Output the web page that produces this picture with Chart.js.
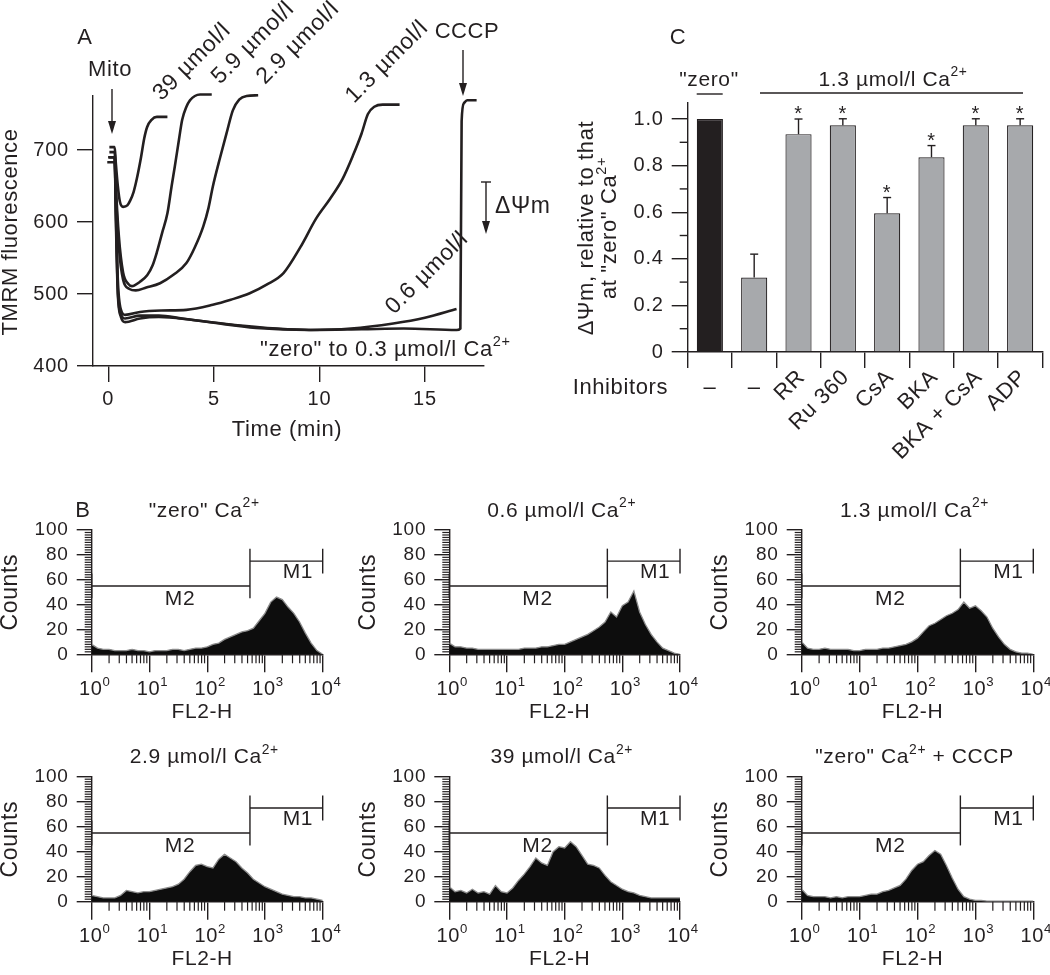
<!DOCTYPE html>
<html>
<head>
<meta charset="utf-8">
<script src="https://cdn.jsdelivr.net/npm/chart.js@4.4.1/dist/chart.umd.min.js"></script>
<style>
  body { margin: 0; background: #fff; width: 1050px; height: 975px; position: relative; overflow: hidden; }
  canvas { position: absolute; }
</style>
</head>
<body>
<canvas id="cA" width="560" height="480" style="left:0;top:0"></canvas>
<canvas id="cC" width="530" height="480" style="left:520px;top:0"></canvas>
<canvas id="h0" width="350" height="260" style="left:0;top:470px"></canvas>
<canvas id="h1" width="350" height="260" style="left:350px;top:470px"></canvas>
<canvas id="h2" width="350" height="260" style="left:700px;top:470px"></canvas>
<canvas id="h3" width="350" height="245" style="left:0;top:730px"></canvas>
<canvas id="h4" width="350" height="245" style="left:350px;top:730px"></canvas>
<canvas id="h5" width="350" height="245" style="left:700px;top:730px"></canvas>
<script>
// ---- panel A: TMRM traces (time in min, fluorescence) ----
var t39 = [0.05, 0.3, 0.36, 0.45, 0.55, 0.7, 0.9, 1.04, 1.2, 1.35, 1.55, 1.7, 1.84, 2.05, 2.3, 2.8];
var v39 = [704, 704, 680, 650, 628, 621, 623, 630, 642, 660, 690, 716, 732, 742, 746, 746];
var t59 = [0.05, 0.3, 0.36, 0.5, 0.7, 0.95, 1.12, 1.5, 1.84, 2.1, 2.3, 2.55, 2.8, 3.0, 3.15, 3.35, 3.5, 3.7, 3.87, 4.1, 4.35, 4.9];
var v59 = [697, 697, 650, 580, 530, 514, 511, 517, 526, 540, 558, 585, 612, 650, 677, 715, 742, 760, 769, 775, 777, 777];
var t29 = [0.0, 0.3, 0.36, 0.5, 0.7, 1.0, 1.3, 1.8, 2.45, 3.1, 3.7, 4.1, 4.5, 4.75, 4.95, 5.3, 5.6, 5.9, 6.2, 6.55, 7.1];
var v29 = [690, 690, 640, 565, 520, 507, 505, 509, 515, 527, 543, 565, 594, 620, 649, 690, 723, 755, 770, 775, 776];
var t13 = [-0.05, 0.3, 0.36, 0.45, 0.6, 0.8, 1.5, 2.5, 3.7, 4.95, 5.8, 6.7, 7.5, 8.3, 9.1, 9.85, 10.5, 11.1, 11.6, 12.0, 12.3, 12.6, 13.0, 13.8];
var v13 = [683, 683, 620, 520, 478, 471, 475, 477, 478, 485, 492, 501, 513, 529, 565, 605, 632, 660, 693, 723, 750, 760, 763, 763];
var t06 = [0.05, 0.3, 0.36, 0.45, 0.6, 0.8, 1.5, 2.4, 3.5, 5, 7, 9.5, 11.5, 13.5, 15, 16.5];
var v06 = [690, 690, 610, 505, 472, 466, 470, 470, 466, 460, 453, 450, 452, 459, 467, 479];
var tZero = [0.0, 0.3, 0.36, 0.45, 0.6, 0.8, 1.5, 2.4, 4, 6, 8, 9.6, 12, 14, 16.5, 16.68, 16.74, 16.85, 17.0, 17.45];
var vZero = [690, 690, 600, 500, 468, 461, 466, 468, 464, 457, 452, 450, 451, 452, 450, 452, 740, 765, 769, 769];
var timeTicks = [0, 5, 10, 15];
var tmrmTicks = [400, 500, 600, 700];

// ---- panel C: dPsi relative to "zero" Ca2+ ----
var inhibitors = ['\u2013', '\u2013', 'RR', 'Ru 360', 'CsA', 'BKA', 'BKA + CsA', 'ADP'];
var dpsi = [1.0, 0.32, 0.935, 0.973, 0.595, 0.836, 0.973, 0.973];
var dpsiErr = [0, 0.10, 0.065, 0.028, 0.068, 0.05, 0.028, 0.028];
var signif = [false, false, true, true, true, true, true, true];
var dpsiTicks = [0, 0.2, 0.4, 0.6, 0.8, 1.0];

// ---- panel B: FL2-H histograms, channel position as log10 ----
var binExp = [0, 0.1, 0.2, 0.3, 0.4, 0.5, 0.6, 0.7, 0.8, 0.9, 1, 1.1, 1.2, 1.3, 1.4, 1.5, 1.6, 1.7, 1.8, 1.9, 2,
  2.1, 2.2, 2.3, 2.4, 2.5, 2.6, 2.7, 2.8, 2.9, 3, 3.1, 3.2, 3.3, 3.4, 3.5, 3.6, 3.7, 3.8, 3.9, 4];
var cntZero = [8, 5, 4, 4, 3, 3, 3, 4, 3, 3, 2, 3, 3, 3, 4, 4, 3, 4, 5, 5, 6,
  8, 9, 12, 14, 16, 18, 19, 21, 27, 33, 42, 46, 44, 38, 33, 26, 17, 9, 3, 0];
var cnt06 = [9, 6, 6, 5, 5, 4, 4, 4, 4, 4, 4, 4, 4, 5, 5, 5, 6, 6, 7, 8, 8,
  10, 12, 14, 16, 19, 22, 26, 34, 30, 39, 42, 51, 34, 24, 16, 10, 5, 3, 1, 0];
var cnt13 = [10, 5, 4, 4, 5, 4, 4, 4, 4, 3, 3, 4, 4, 4, 5, 5, 6, 7, 8, 10, 13,
  18, 23, 25, 28, 31, 33, 36, 42, 37, 39, 35, 30, 21, 14, 8, 4, 2, 1, 1, 0];
var cnt29 = [5, 4, 3, 3, 3, 5, 9, 8, 7, 8, 8, 9, 10, 11, 12, 14, 18, 24, 29, 30, 28,
  27, 34, 38, 35, 32, 27, 23, 18, 15, 12, 10, 8, 6, 5, 4, 4, 3, 3, 2, 1];
var cnt39 = [12, 8, 9, 7, 10, 7, 8, 6, 13, 8, 7, 11, 17, 22, 28, 35, 31, 29, 40, 44, 43,
  48, 44, 37, 30, 29, 27, 21, 16, 13, 10, 8, 7, 5, 4, 3, 3, 3, 3, 3, 3];
var cntCCCP = [10, 5, 4, 4, 4, 3, 4, 3, 4, 4, 4, 5, 6, 6, 8, 9, 11, 13, 18, 25, 30,
  32, 37, 41, 38, 29, 19, 10, 4, 2, 1, 1, 0.5, 0.5, 0.5, 0.5, 0.5, 0.5, 0.5, 0.5, 0.5];
var decades = [1, 10, 100, 1000, 10000];
var countTicks = [0, 20, 40, 60, 80, 100];
var gateEdge = 550, m2Level = 55, m1Level = 75;

var FONT = '"Liberation Sans", Arial, sans-serif';
var INK = '#231f20';
Chart.defaults.font.family = FONT;
Chart.defaults.color = INK;
Chart.defaults.animation = false;
Chart.defaults.responsive = false;
Chart.defaults.plugins.legend.display = false;
Chart.defaults.plugins.tooltip.enabled = false;
// the original lettering is a little wider than Arial
Chart.register({ id: 'spacing', beforeDraw: function (chart) { chart.ctx.letterSpacing = '0.8px'; } });

function fixY(w) { return function (s) { s.width = w; s.paddingTop = 0; s.paddingBottom = 0; }; }
function fixX(h) { return function (s) { s.height = h; s.paddingLeft = 0; s.paddingRight = 0; }; }
function setTicks(list) { return function (s) { s.ticks = list.map(function (v) { return { value: v }; }); }; }

function label(ctx, s, x, y, size, align, rot) {
  ctx.save();
  ctx.translate(x, y);
  if (rot) ctx.rotate(rot);
  ctx.font = size + 'px ' + FONT;
  ctx.fillStyle = INK;
  ctx.textAlign = align || 'center';
  ctx.textBaseline = 'middle';
  ctx.letterSpacing = '0.6px';
  ctx.fillText(s, 0, 0);
  ctx.restore();
}
// parts: [text, isSuperscript]
function rich(ctx, parts, x, y, size, align, rot) {
  ctx.save();
  ctx.translate(x, y);
  if (rot) ctx.rotate(rot);
  ctx.fillStyle = INK;
  ctx.textBaseline = 'middle';
  ctx.textAlign = 'left';
  ctx.letterSpacing = '0.6px';
  var w = 0;
  parts.forEach(function (p) { ctx.font = (p[1] ? size * 0.66 : size) + 'px ' + FONT; w += ctx.measureText(p[0]).width; });
  var sx = align === 'left' ? 0 : (align === 'right' ? -w : -w / 2);
  parts.forEach(function (p) {
    ctx.font = (p[1] ? size * 0.66 : size) + 'px ' + FONT;
    ctx.fillText(p[0], sx, p[1] ? -size * 0.36 : 0);
    sx += ctx.measureText(p[0]).width;
  });
  ctx.restore();
}
function seg(ctx, x0, y0, x1, y1, lw) {
  ctx.beginPath(); ctx.moveTo(x0, y0); ctx.lineTo(x1, y1);
  ctx.lineWidth = lw || 1.4; ctx.strokeStyle = INK; ctx.stroke();
}
function arrowDown(ctx, x, y0, y1) {
  seg(ctx, x, y0, x, y1 - 6, 1.4);
  ctx.beginPath(); ctx.moveTo(x - 4, y1 - 13); ctx.lineTo(x + 4, y1 - 13); ctx.lineTo(x, y1); ctx.closePath();
  ctx.fillStyle = INK; ctx.fill();
}
function axisStyle(len) {
  return { drawOnChartArea: false, tickLength: len, color: INK, lineWidth: 1.4 };
}
var axisBorder = { color: INK, width: 1.4 };

// ================= Panel A =================
var curvesA = [[t39, v39], [t59, v59], [t29, v29], [t13, v13], [t06, v06], [tZero, vZero]];
new Chart(document.getElementById('cA'), {
  type: 'line',
  data: {
    datasets: curvesA.map(function (c) {
      return {
        data: c[0].map(function (t, i) { return { x: t, y: c[1][i] }; }),
        borderColor: INK, borderWidth: 2.6, pointRadius: 0,
        cubicInterpolationMode: 'monotone', fill: false, clip: false
      };
    })
  },
  options: {
    layout: { padding: { left: 0, top: 96, right: 76, bottom: 0 } },
    scales: {
      x: {
        type: 'linear', min: -0.726, max: 17.8,
        afterBuildTicks: setTicks(timeTicks), afterFit: fixX(114),
        grid: axisStyle(16), border: axisBorder,
        ticks: { font: { size: 20 }, padding: 5, maxRotation: 0, autoSkip: false, color: INK }
      },
      y: {
        min: 400, max: 775,
        afterBuildTicks: setTicks(tmrmTicks), afterFit: fixY(93),
        grid: axisStyle(16), border: axisBorder,
        ticks: { font: { size: 20 }, padding: 8, autoSkip: false, color: INK }
      }
    }
  },
  plugins: [{
    id: 'annA',
    afterDraw: function (chart) {
      var ctx = chart.ctx;
      label(ctx, 'A', 85, 38, 22);
      label(ctx, 'Mito', 110, 70, 22);
      arrowDown(ctx, 112, 89, 134);
      var r = -Math.PI / 4;
      label(ctx, '39 \u00b5mol/l', 192, 62, 23, 'center', r);
      label(ctx, '5.9 \u00b5mol/l', 253, 43, 23, 'center', r);
      label(ctx, '2.9 \u00b5mol/l', 298, 43, 23, 'center', r);
      label(ctx, '1.3 \u00b5mol/l', 387, 62, 23, 'center', r);
      label(ctx, '0.6 \u00b5mol/l', 427, 273, 23, 'center', r);
      label(ctx, 'CCCP', 467, 32, 22);
      arrowDown(ctx, 463, 50, 96);
      seg(ctx, 481, 182, 491, 182, 1.4);
      arrowDown(ctx, 486, 182, 234);
      label(ctx, '\u0394\u03a8m', 495, 207, 23, 'left');
      rich(ctx, [['"zero" to 0.3 \u00b5mol/l Ca', 0], ['2+', 1]], 260, 350, 22, 'left');
      label(ctx, 'TMRM fluorescence', 11, 232, 22, 'center', -Math.PI / 2);
      label(ctx, 'Time (min)', 287, 430, 22);
    }
  }]
});

// ================= Panel C =================
var OXC = 520;
new Chart(document.getElementById('cC'), {
  type: 'bar',
  data: {
    labels: inhibitors,
    datasets: [{
      data: dpsi,
      backgroundColor: function (c) { return c.dataIndex === 0 ? INK : '#a7a9ac'; },
      borderColor: INK, borderWidth: 1.2,
      barPercentage: 0.59, categoryPercentage: 1
    }]
  },
  options: {
    layout: { padding: { left: 0, top: 102.7, right: 7.7, bottom: 0 } },
    scales: {
      x: {
        afterFit: fixX(128),
        grid: axisStyle(16), border: axisBorder,
        ticks: { display: false }
      },
      y: {
        min: 0, max: 1.07,
        afterBuildTicks: setTicks(dpsiTicks), afterFit: fixY(167.7),
        grid: axisStyle(16), border: axisBorder,
        ticks: {
          font: { size: 20 }, padding: 8, autoSkip: false, color: INK,
          callback: function (v) { return v === 0 ? '0' : v.toFixed(1); }
        }
      }
    }
  },
  plugins: [{
    id: 'annC',
    afterDraw: function (chart) {
      var ctx = chart.ctx, xs = chart.scales.x, ys = chart.scales.y;
      // minor y ticks
      [0.1, 0.3, 0.5, 0.7, 0.9].forEach(function (v) {
        var y = ys.getPixelForValue(v);
        seg(ctx, xs.left - 8, y, xs.left, y, 1.4);
      });
      // error bars, asterisks and category labels
      dpsi.forEach(function (v, i) {
        var x = xs.getPixelForValue(i);
        if (dpsiErr[i] > 0) {
          var yb = ys.getPixelForValue(v), yt = ys.getPixelForValue(v + dpsiErr[i]);
          seg(ctx, x, yb, x, yt, 1.4);
          seg(ctx, x - 4, yt, x + 4, yt, 1.4);
          if (signif[i]) {
            ctx.save();
            ctx.font = '20px ' + FONT; ctx.fillStyle = INK;
            ctx.textAlign = 'center'; ctx.textBaseline = 'alphabetic';
            ctx.fillText('*', x, yt + 1);
            ctx.restore();
          }
        }
        if (i < 2) {
          label(ctx, inhibitors[i], x, 388, 22);
        } else {
          label(ctx, inhibitors[i], x + 3, 374, 22, 'right', -Math.PI / 4);
        }
      });
      ctx.save();
      ctx.translate(-OXC, 0);
      label(ctx, 'C', 678, 38, 22);
      label(ctx, '"zero"', 709, 80, 21);
      seg(ctx, 696.7, 94, 722.7, 94, 1.4);
      rich(ctx, [['1.3 \u00b5mol/l Ca', 0], ['2+', 1]], 893, 80, 21, 'center');
      seg(ctx, 760, 93, 1023, 93, 1.4);
      label(ctx, '\u0394\u03a8m, relative to that', 587, 228, 22, 'center', -Math.PI / 2);
      rich(ctx, [['at "zero" Ca', 0], ['2+', 1]], 610, 228, 22, 'center', -Math.PI / 2);
      label(ctx, 'Inhibitors', 668, 388, 22, 'right');
      ctx.restore();
    }
  }]
});

// ================= Panel B histograms =================
function histogram(id, counts, titleParts, box, area, letter) {
  var cx = box[0], cy = box[1], cw = box[2], ch = box[3];
  var ax0 = area[0], ay0 = area[1], ax1 = area[2], ay1 = area[3];
  new Chart(document.getElementById(id), {
    type: 'line',
    data: {
      datasets: [{
        data: binExp.map(function (e, i) { return { x: Math.pow(10, e), y: counts[i] }; }),
        fill: 'origin', backgroundColor: '#0d0d0d',
        borderColor: '#8c8c8c', borderWidth: 1.3, pointRadius: 0, tension: 0
      }]
    },
    options: {
      layout: { padding: { left: 0, top: ay0 - cy, right: cx + cw - ax1, bottom: 0 } },
      scales: {
        x: {
          type: 'logarithmic', min: 1, max: 10000,
          afterBuildTicks: setTicks(decades), afterFit: fixX(cy + ch - ay1),
          grid: axisStyle(18), border: axisBorder,
          ticks: { display: false }
        },
        y: {
          min: 0, max: 100,
          afterBuildTicks: setTicks(countTicks), afterFit: fixY(ax0 - cx),
          grid: axisStyle(15), border: axisBorder,
          ticks: { font: { size: 19 }, padding: 8, autoSkip: false, color: INK }
        }
      }
    },
    plugins: [{
      id: 'ann' + id,
      afterDraw: function (chart) {
        var ctx = chart.ctx, xs = chart.scales.x, ys = chart.scales.y;
        var ca = chart.chartArea;
        // minor ticks
        for (var v = 2; v < 100; v += 2) {
          if (v % 20 === 0) continue;
          var y = ys.getPixelForValue(v);
          seg(ctx, ca.left - 7, y, ca.left, y, 1.2);
        }
        decades.slice(0, 4).forEach(function (d) {
          for (var k = 2; k <= 9; k++) {
            var x = xs.getPixelForValue(d * k);
            seg(ctx, x, ca.bottom, x, ca.bottom + 9, 1.2);
          }
        });
        // decade labels
        decades.forEach(function (d, i) {
          rich(ctx, [['10', 0], [String(i), 1]], xs.getPixelForValue(d) + 3, ca.bottom + 35, 20, 'center');
        });
        // gates M1 / M2
        var xa = xs.getPixelForValue(1), xb = xs.getPixelForValue(gateEdge), xc = xs.getPixelForValue(10000);
        var y2 = ys.getPixelForValue(m2Level), y1 = ys.getPixelForValue(m1Level);
        seg(ctx, xa, y2, xb, y2, 1.4);
        seg(ctx, xa, ys.getPixelForValue(m2Level - 10), xa, ys.getPixelForValue(m2Level + 10), 1.4);
        seg(ctx, xb, ys.getPixelForValue(m2Level - 10), xb, ys.getPixelForValue(m1Level + 10), 1.4);
        seg(ctx, xb, y1, xc, y1, 1.4);
        seg(ctx, xc, ys.getPixelForValue(m1Level - 10), xc, ys.getPixelForValue(m1Level + 10), 1.4);
        label(ctx, 'M2', xs.getPixelForValue(Math.pow(10, 1.53)), ys.getPixelForValue(44), 21);
        label(ctx, 'M1', xs.getPixelForValue(Math.pow(10, 3.57)), ys.getPixelForValue(66), 21);
        var mid = (ca.left + ca.right) / 2;
        rich(ctx, titleParts, mid - 3, ca.top - 19, 21, 'center');
        label(ctx, 'Counts', ca.left - 81, (ca.top + ca.bottom) / 2, 23, 'center', -Math.PI / 2);
        label(ctx, 'FL2-H', mid - 5, ca.bottom + 58, 21);
        if (letter) label(ctx, letter, 83 - cx, 511 - cy, 22);
      }
    }]
  });
}

histogram('h0', cntZero, [['"zero" Ca', 0], ['2+', 1]], [0, 470, 350, 260], [91.7, 530, 322.7, 654.3], 'B');
histogram('h1', cnt06, [['0.6 \u00b5mol/l Ca', 0], ['2+', 1]], [350, 470, 350, 260], [449.3, 530, 680, 654.3]);
histogram('h2', cnt13, [['1.3 \u00b5mol/l Ca', 0], ['2+', 1]], [700, 470, 350, 260], [801.7, 530, 1033.3, 654.3]);
histogram('h3', cnt29, [['2.9 \u00b5mol/l Ca', 0], ['2+', 1]], [0, 730, 350, 245], [91.7, 776.7, 322.7, 901.7]);
histogram('h4', cnt39, [['39 \u00b5mol/l Ca', 0], ['2+', 1]], [350, 730, 350, 245], [449.3, 776.7, 680, 901.7]);
histogram('h5', cntCCCP, [['"zero" Ca', 0], ['2+', 1], [' + CCCP', 0]], [700, 730, 350, 245], [801.7, 776.7, 1033.3, 901.7]);
</script>
</body>
</html>
